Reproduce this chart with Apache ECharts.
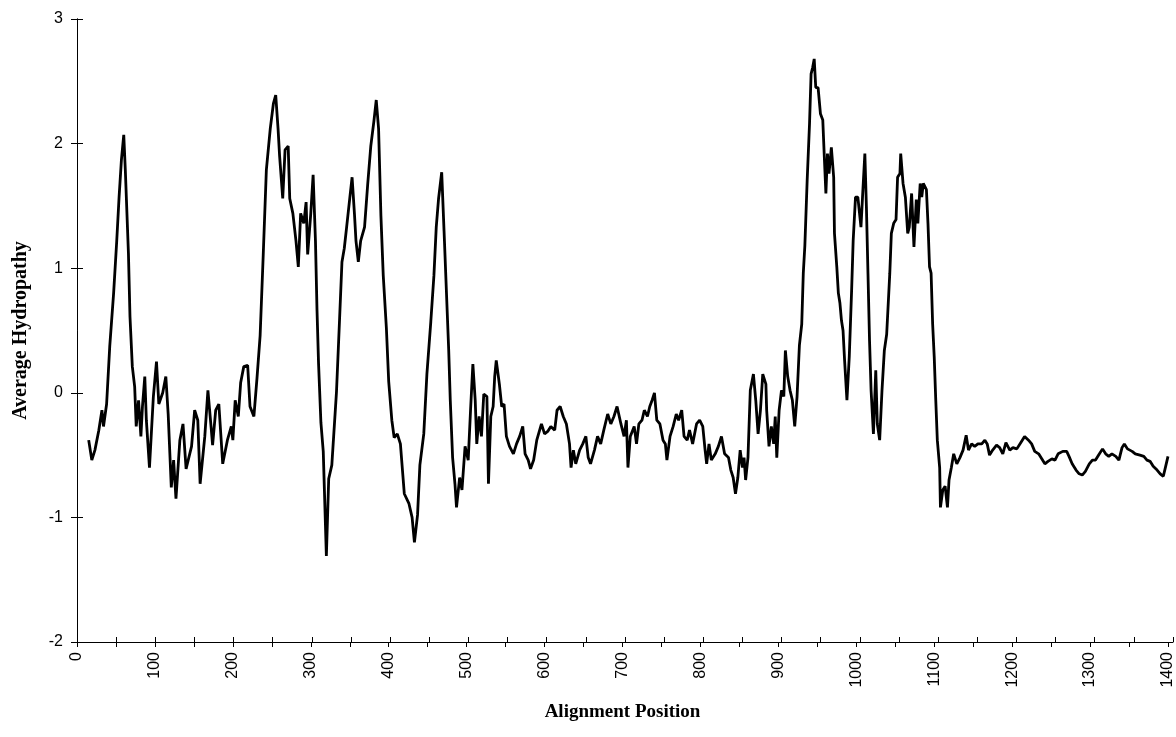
<!DOCTYPE html>
<html>
<head>
<meta charset="utf-8">
<script src="https://cdn.jsdelivr.net/npm/echarts@6/dist/echarts.min.js"></script>
<style>
  html, body { margin: 0; padding: 0; background: #fff; }
  #chart { width: 1176px; height: 737px; }
</style>
</head>
<body>
<div id="chart"></div>
<script>
// alignment positions
const positions = [
  15, 19, 23, 28, 32, 34, 38, 42, 47, 51, 54, 57, 60, 62, 66, 68, 71, 74, 76, 79,
  82, 84, 87, 89, 93, 98, 102, 105, 110, 114, 117, 121, 124, 127, 132, 136, 140, 147, 151, 155,
  158, 164, 168, 172, 174, 178, 182, 187, 193, 198, 200, 203, 207, 210, 214, 219, 222, 227, 231, 235,
  239, 243, 248, 252, 255, 258, 260, 264, 267, 271, 273, 277, 281, 284, 287, 291, 294, 296, 300, 303,
  306, 308, 310, 313, 316, 320, 323, 327, 333, 337, 340, 343, 346, 350, 353, 356, 358, 361, 364, 369,
  373, 377, 381, 384, 387, 390, 393, 397, 400, 404, 407, 411, 415, 420, 426, 430, 433, 437, 440, 445,
  449, 454, 458, 461, 464, 468, 471, 477, 479, 482, 485, 487, 491, 494, 498, 502, 505, 508, 511, 513,
  516, 519, 522, 526, 528, 531, 534, 536, 538, 542, 545, 548, 551, 555, 560, 564, 568, 572, 575, 579,
  582, 586, 590, 596, 600, 604, 608, 613, 616, 620, 624, 628, 632, 634, 637, 640, 645, 649, 653, 656,
  659, 664, 668, 672, 676, 681, 685, 689, 693, 698, 702, 705, 707, 710, 715, 718, 721, 725, 728, 732,
  735, 738, 741, 744, 748, 752, 755, 757, 761, 765, 769, 772, 776, 779, 783, 786, 790, 795, 799, 803,
  806, 808, 811, 814, 819, 823, 827, 831, 836, 839, 842, 845, 848, 851, 854, 856, 858, 861, 864, 868,
  871, 874, 877, 880, 884, 885, 888, 891, 894, 896, 898, 901, 904, 907, 909, 912, 915, 918, 921, 924,
  927, 930, 932, 934, 937, 940, 942, 944, 946, 948, 951, 954, 957, 959, 961, 963, 965, 968, 971, 972,
  975, 977, 979, 981, 983, 985, 988, 991, 994, 996, 999, 1002, 1006, 1008, 1011, 1013, 1015, 1017, 1019, 1022,
  1025, 1027, 1030, 1033, 1036, 1039, 1043, 1045, 1048, 1051, 1053, 1056, 1057, 1060, 1063, 1066, 1068, 1071, 1074, 1077,
  1079, 1082, 1084, 1086, 1090, 1092, 1094, 1096, 1098, 1100, 1102, 1104, 1107, 1108, 1111, 1114, 1117, 1119, 1122, 1125,
  1129, 1133, 1137, 1141, 1144, 1148, 1152, 1156, 1161, 1165, 1168, 1171, 1175, 1180, 1184, 1188, 1192, 1197, 1201, 1206,
  1211, 1216, 1221, 1225, 1229, 1234, 1238, 1242, 1246, 1251, 1255, 1259, 1265, 1270, 1273, 1277, 1282, 1286, 1290, 1294,
  1299, 1303, 1307, 1311, 1316, 1320, 1324, 1328, 1333, 1337, 1341, 1344, 1348, 1354, 1358, 1364, 1369, 1373, 1377, 1381,
  1386, 1390, 1394, 1397, 1400
];

// average hydropathy at each position
const hydropathy = [
  -0.38, -0.54, -0.46, -0.30, -0.14, -0.27, -0.09, 0.37, 0.80, 1.22, 1.57, 1.87, 2.07, 1.79, 1.12, 0.61, 0.21, 0.05, -0.27, -0.06,
  -0.35, -0.11, 0.13, -0.22, -0.60, -0.03, 0.25, -0.09, 0.00, 0.13, -0.17, -0.76, -0.54, -0.85, -0.38, -0.25, -0.61, -0.43, -0.14, -0.22,
  -0.73, -0.35, 0.02, -0.27, -0.42, -0.14, -0.09, -0.57, -0.38, -0.27, -0.38, -0.06, -0.19, 0.08, 0.21, 0.22, -0.11, -0.19, 0.12, 0.46,
  1.11, 1.79, 2.12, 2.32, 2.39, 2.12, 1.90, 1.56, 1.95, 1.98, 1.56, 1.44, 1.22, 1.01, 1.44, 1.36, 1.53, 1.11, 1.44, 1.75,
  1.22, 0.66, 0.23, -0.24, -0.47, -1.31, -0.69, -0.58, 0.01, 0.60, 1.05, 1.16, 1.33, 1.56, 1.73, 1.44, 1.22, 1.05, 1.22, 1.33,
  1.67, 1.98, 2.18, 2.35, 2.12, 1.42, 0.94, 0.52, 0.09, -0.22, -0.36, -0.33, -0.41, -0.81, -0.89, -1.00, -1.20, -0.98, -0.58, -0.33,
  0.15, 0.57, 0.94, 1.33, 1.56, 1.77, 1.30, 0.34, -0.06, -0.52, -0.73, -0.92, -0.68, -0.78, -0.43, -0.54, -0.14, 0.23, -0.06, -0.41,
  -0.19, -0.35, -0.01, -0.03, -0.73, -0.19, -0.11, 0.13, 0.26, 0.07, -0.11, -0.09, -0.35, -0.43, -0.49, -0.41, -0.35, -0.27, -0.49, -0.54,
  -0.61, -0.54, -0.38, -0.25, -0.33, -0.31, -0.27, -0.30, -0.14, -0.11, -0.19, -0.25, -0.41, -0.60, -0.46, -0.57, -0.46, -0.41, -0.35, -0.52,
  -0.57, -0.46, -0.35, -0.41, -0.30, -0.17, -0.25, -0.19, -0.11, -0.25, -0.35, -0.22, -0.60, -0.35, -0.27, -0.41, -0.25, -0.22, -0.14, -0.19,
  -0.11, -0.06, 0.00, -0.22, -0.25, -0.38, -0.41, -0.54, -0.35, -0.27, -0.17, -0.22, -0.14, -0.35, -0.38, -0.30, -0.41, -0.25, -0.22, -0.27,
  -0.46, -0.57, -0.41, -0.54, -0.49, -0.43, -0.35, -0.49, -0.52, -0.62, -0.68, -0.81, -0.68, -0.46, -0.60, -0.52, -0.70, -0.52, 0.02, 0.15,
  -0.06, -0.33, -0.14, 0.15, 0.07, -0.14, -0.43, -0.27, -0.41, -0.19, -0.52, -0.14, 0.02, -0.03, 0.34, 0.13, 0.02, -0.06, -0.27, -0.03,
  0.38, 0.55, 0.96, 1.18, 1.71, 2.16, 2.56, 2.61, 2.68, 2.45, 2.45, 2.24, 2.19, 1.89, 1.60, 1.92, 1.76, 1.97, 1.73, 1.28,
  1.01, 0.80, 0.72, 0.58, 0.50, 0.26, -0.06, 0.29, 0.82, 1.22, 1.57, 1.57, 1.33, 1.57, 1.92, 1.49, 0.96, 0.42, 0.02, -0.33,
  0.18, -0.25, -0.38, 0.02, 0.34, 0.47, 0.96, 1.28, 1.36, 1.39, 1.73, 1.76, 1.92, 1.68, 1.57, 1.28, 1.33, 1.60, 1.17, 1.55,
  1.36, 1.68, 1.57, 1.68, 1.63, 1.36, 1.01, 0.96, 0.55, 0.29, -0.06, -0.38, -0.60, -0.92, -0.78, -0.75, -0.92, -0.70, -0.60, -0.49,
  -0.57, -0.52, -0.46, -0.34, -0.46, -0.41, -0.43, -0.41, -0.41, -0.38, -0.41, -0.50, -0.46, -0.42, -0.44, -0.49, -0.40, -0.46, -0.44, -0.45,
  -0.40, -0.35, -0.38, -0.41, -0.47, -0.49, -0.53, -0.57, -0.55, -0.53, -0.54, -0.49, -0.47, -0.47, -0.51, -0.57, -0.62, -0.65, -0.66, -0.63,
  -0.57, -0.54, -0.54, -0.50, -0.45, -0.49, -0.51, -0.49, -0.51, -0.54, -0.44, -0.41, -0.45, -0.47, -0.49, -0.50, -0.51, -0.54, -0.55, -0.59,
  -0.62, -0.65, -0.67, -0.59, -0.51
];

const chart = echarts.init(document.getElementById('chart'));

const plotBox = { left: 77, right: 3, top: 19, bottom: 95 };
const labelFont = { fontFamily: 'Liberation Sans', fontSize: 16, color: '#000' };

const options = {
  animation: false,
  backgroundColor: '#fff',
  // second grid sits exactly on the first; its axes only draw the inner tick halves
  grid: [Object.assign({}, plotBox), Object.assign({}, plotBox)],
  xAxis: [
    {
      type: 'value',
      gridIndex: 0,
      min: 0,
      max: 1400,
      interval: 50,
      name: 'Alignment Position',
      nameLocation: 'middle',
      nameGap: 61,
      nameTextStyle: { fontFamily: 'Liberation Serif', fontWeight: 'bold', fontSize: 19, color: '#000' },
      axisLine: { onZero: false, lineStyle: { color: '#000', width: 1 } },
      axisTick: { length: 5, lineStyle: { color: '#000' } },
      axisLabel: Object.assign({}, labelFont, {
        rotate: 90,
        margin: 10,
        formatter: v => (v % 100 === 0 ? String(v) : '')
      }),
      splitLine: { show: false }
    },
    {
      type: 'value',
      gridIndex: 1,
      min: 0,
      max: 1400,
      interval: 50,
      axisLine: { onZero: false, lineStyle: { color: '#000', width: 1 } },
      axisTick: { show: true, inside: true, length: 5, lineStyle: { color: '#000' } },
      axisLabel: { show: false },
      splitLine: { show: false }
    }
  ],
  yAxis: [
    {
      type: 'value',
      gridIndex: 0,
      min: -2,
      max: 3,
      interval: 1,
      name: 'Average Hydropathy',
      nameLocation: 'middle',
      nameGap: 46,
      nameTextStyle: { fontFamily: 'Liberation Serif', fontWeight: 'bold', fontSize: 20, color: '#000' },
      axisLine: { show: true, onZero: false, lineStyle: { color: '#000', width: 1 } },
      axisTick: { show: true, length: 6, lineStyle: { color: '#000' } },
      axisLabel: Object.assign({}, labelFont, { margin: 14 }),
      splitLine: { show: false }
    },
    {
      type: 'value',
      gridIndex: 1,
      min: -2,
      max: 3,
      interval: 1,
      axisLine: { show: true, onZero: false, lineStyle: { color: '#000', width: 1 } },
      axisTick: { show: true, inside: true, length: 6, lineStyle: { color: '#000' } },
      axisLabel: { show: false },
      splitLine: { show: false }
    }
  ],
  series: [
    {
      type: 'line',
      xAxisIndex: 0,
      yAxisIndex: 0,
      showSymbol: false,
      lineStyle: { color: '#000', width: 2.8 },
      data: positions.map((p, i) => [p, hydropathy[i]])
    },
    {
      type: 'line',
      xAxisIndex: 1,
      yAxisIndex: 1,
      showSymbol: false,
      data: []
    }
  ]
};

chart.setOption(options);
</script>
</body>
</html>
